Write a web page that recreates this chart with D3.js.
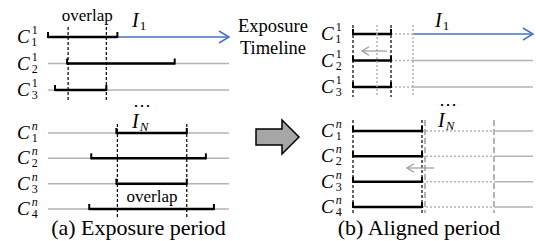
<!DOCTYPE html>
<html>
<head>
<meta charset="utf-8">
<script src="https://cdn.jsdelivr.net/npm/d3@7"></script>
<style>
    body { margin: 0; background: #fff; }
    svg { display: block; }
    text { font-family: "Liberation Serif", "DejaVu Serif", serif; }
</style>
</head>
<body>
<svg width="536" height="241"></svg>
<script>
// Cameras in each group (subscript) and the group index (superscript)
const topCams = ['1', '2', '3'];
const topGroup = '1';
const botCams = ['1', '2', '3', '4'];
const botGroup = 'n';

// exposure intervals on the timeline, time units 0..180
const timelineEnd = 180;
const exposureTop = [[0, 69], [19, 126], [7, 58]];
const exposureBot = [[68, 138], [43, 157], [68, 138], [41, 165]];
const overlapTop = [20, 58];
const overlapBot = [69, 138];

// aligned periods and the place they were moved from
const alignedTop = [0, 38];
const alignedBot = [0, 69];
const movedFromTop = [24, 60];
const movedFromBot = [72, 141];

const captions = ['(a) Exposure period', '(b) Aligned period'];
const timelineLabel = ['Exposure', 'Timeline'];
const groupNames = [['I', '1'], ['I', 'N']];

const blue = '#4472c4';
const gray = '#b3b3b3';
const serif = '"Liberation Serif", "DejaVu Serif", serif';
const svg = d3.select('svg').attr('font-family', serif);

const xA = d3.scaleLinear().domain([0, timelineEnd]).range([48, 229]);
const xB = d3.scaleLinear().domain([0, timelineEnd]).range([353, 533]);
const yATop = d3.scalePoint().domain(topCams).range([37, 90]);
const yABot = d3.scalePoint().domain(botCams).range([133, 209]);
const yBTop = d3.scalePoint().domain(topCams).range([34, 87]);
const yBBot = d3.scalePoint().domain(botCams).range([131, 207]);


function camLabel(g, x, y, sub, sup) {
    const t = g.append('text')
        .attr('x', x).attr('y', y + 6)
        .attr('font-family', serif);
    t.append('tspan')
        .attr('font-size', 19).attr('font-style', 'italic')
        .text('C');
    t.append('tspan')
        .attr('dx', 2).attr('dy', -9)
        .attr('font-size', 12)
        .attr('font-style', sup === 'n' ? 'italic' : 'normal')
        .text(sup);
    t.append('tspan')
        .attr('dx', -6).attr('dy', 12)
        .attr('font-size', 12)
        .text(sub);
}

function line(g, x1, x2, y, color, width, dash) {
    return g.append('line')
        .attr('x1', x1).attr('x2', x2)
        .attr('y1', y).attr('y2', y)
        .attr('stroke', color)
        .attr('stroke-width', width)
        .attr('stroke-dasharray', dash || null);
}

function vline(g, x, y1, y2, color, width, dash) {
    return g.append('line')
        .attr('x1', x).attr('x2', x)
        .attr('y1', y1).attr('y2', y2)
        .attr('stroke', color)
        .attr('stroke-width', width)
        .attr('stroke-dasharray', dash || null);
}

function bar(g, x1, x2, y) {
    line(g, x1, x2, y, '#000', 2.5);
    vline(g, x1, y - 5, y + 1, '#000', 2);
    vline(g, x2, y - 5, y + 1, '#000', 2);
}

function arrowHead(g, x, y, dir, color, size, width) {
    g.append('path')
        .attr('d', `M${x - dir * size},${y - size * 0.6} L${x},${y} L${x - dir * size},${y + size * 0.6}`)
        .attr('fill', 'none')
        .attr('stroke', color)
        .attr('stroke-width', width);
}

// group name I with subscript; the lower groups also get the "⋯" above
function groupLabel(g, x, y, name, dots) {
    const t = g.append('text')
        .attr('x', x).attr('y', y)
        .attr('font-family', serif);
    if (dots) {
        t.append('tspan')
            .attr('x', x + 1).attr('y', y - 17)
            .attr('font-size', 18)
            .text('⋯');
    }
    t.append('tspan')
        .attr('x', x).attr('y', y)
        .attr('font-size', 20).attr('font-style', 'italic')
        .text(name[0]);
    t.append('tspan')
        .attr('dx', 1).attr('dy', 3)
        .attr('font-size', 13)
        .attr('font-style', name[1] === 'N' ? 'italic' : 'normal')
        .text(name[1]);
}

function overlapLabel(g, x, y) {
    g.append('text')
        .attr('x', x).attr('y', y)
        .attr('text-anchor', 'middle')
        .attr('font-family', serif)
        .attr('font-size', 17)
        .text('overlap');
}


// (a) Exposure period
const ga = svg.append('g');

topCams.forEach((c, i) => {
    const y = yATop(c);
    const iv = exposureTop[i];
    if (i === 0) {
        line(ga, xA(iv[1]), xA(timelineEnd), y, blue, 1.5);
        arrowHead(ga, xA(timelineEnd), y, 1, blue, 10, 1.5);
    } else {
        line(ga, xA(0), xA(timelineEnd), y, gray, 1.5);
    }
    bar(ga, xA(iv[0]), xA(iv[1]), y);
    camLabel(ga, 17, y, c, topGroup);
});

botCams.forEach((c, i) => {
    const y = yABot(c);
    const iv = exposureBot[i];
    line(ga, xA(0), xA(timelineEnd), y, gray, 1.5);
    bar(ga, xA(iv[0]), xA(iv[1]), y);
    camLabel(ga, 17, y, c, botGroup);
});

overlapTop.forEach(t => vline(ga, xA(t), 27, 100, '#000', 1.2, '3,2'));
overlapBot.forEach(t => vline(ga, xA(t), 124, 217, '#000', 1.2, '3,2'));

overlapLabel(ga, (xA(overlapTop[0]) + xA(overlapTop[1])) / 2, 21);
overlapLabel(ga, (xA(overlapBot[0]) + xA(overlapBot[1])) / 2, 202);
groupLabel(ga, 132, 27, groupNames[0], false);
groupLabel(ga, 132, 128, groupNames[1], true);

ga.append('text')
    .attr('x', (xA(0) + xA(timelineEnd)) / 2).attr('y', 235)
    .attr('text-anchor', 'middle')
    .attr('font-family', serif)
    .attr('font-size', 22)
    .text(captions[0]);


// Exposure Timeline label
svg.append('g').selectAll('text')
    .data(timelineLabel)
    .join('text')
    .attr('x', 273)
    .attr('y', (d, i) => 32 + i * 22)
    .attr('text-anchor', 'middle')
    .attr('font-family', serif)
    .attr('font-size', 18.5)
    .text(d => d);

// big block arrow between the panels
svg.append('path')
    .attr('d', 'M256,129 L282,129 L282,120 L299,137 L282,154 L282,145 L256,145 Z')
    .attr('fill', '#a6a6a6')
    .attr('stroke', '#000')
    .attr('stroke-width', 1.5)
    .attr('stroke-linejoin', 'miter');


// (b) Aligned period
const gb = svg.append('g');

topCams.forEach((c, i) => {
    const y = yBTop(c);
    line(gb, xB(alignedTop[1]), xB(movedFromTop[1]), y, gray, 1.5, '2,2');
    if (i === 0) {
        line(gb, xB(movedFromTop[1]), xB(timelineEnd), y, blue, 1.5);
        arrowHead(gb, xB(timelineEnd), y, 1, blue, 10, 1.5);
    } else {
        line(gb, xB(movedFromTop[1]), xB(timelineEnd), y, gray, 1.5);
    }
    bar(gb, xB(alignedTop[0]), xB(alignedTop[1]), y);
    camLabel(gb, 321, y, c, topGroup);
});

botCams.forEach((c, i) => {
    const y = yBBot(c);
    line(gb, xB(alignedBot[1]), xB(movedFromBot[1]), y, gray, 1.5, '2,2');
    line(gb, xB(movedFromBot[1]), xB(timelineEnd), y, gray, 1.5);
    bar(gb, xB(alignedBot[0]), xB(alignedBot[1]), y);
    camLabel(gb, 321, y, c, botGroup);
});

movedFromTop.forEach(t => vline(gb, xB(t), 25, 97, gray, 1.5, '2,2'));
movedFromBot.forEach(t => vline(gb, xB(t), 120, 213, gray, 2, '6,3'));
alignedTop.forEach(t => vline(gb, xB(t), 25, 97, '#000', 1.2, '3,2'));
alignedBot.forEach(t => vline(gb, xB(t), 120, 213, '#000', 1.2, '3,2'));

// small arrows showing the shift to the left
line(gb, xB(9), xB(34), 51, '#999', 1.2);
arrowHead(gb, xB(9), 51, -1, '#999', 7, 1.2);
line(gb, xB(54), xB(81), 168, '#999', 1.2);
arrowHead(gb, xB(54), 168, -1, '#999', 7, 1.2);

groupLabel(gb, 435, 27, groupNames[0], false);
groupLabel(gb, 438, 127, groupNames[1], true);

gb.append('text')
    .attr('x', 419).attr('y', 235)
    .attr('text-anchor', 'middle')
    .attr('font-family', serif)
    .attr('font-size', 22)
    .text(captions[1]);
</script>
</body>
</html>
